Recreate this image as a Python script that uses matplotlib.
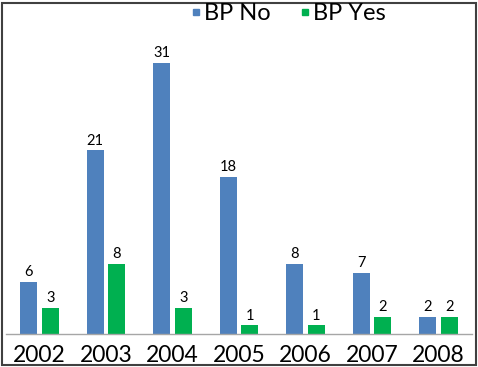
import matplotlib
matplotlib.use("Agg")
import matplotlib.pyplot as plt
import numpy as np
from matplotlib.patches import Rectangle
from matplotlib.lines import Line2D

years = ["2002", "2003", "2004", "2005", "2006", "2007", "2008"]
bp_no = [6, 21, 31, 18, 8, 7, 2]
bp_yes = [3, 8, 3, 1, 1, 2, 2]

plt.rcParams['font.family'] = ['Lato', 'DejaVu Sans']

fig = plt.figure(figsize=(4.78, 3.67), dpi=100)
ax = fig.add_axes([6.25 / 478, 1 - 334 / 367, (471.75 - 6.25) / 478, (334 - 28) / 367])

x = np.arange(len(years))
w = 0.256
off = 0.165
b1 = ax.bar(x - off, bp_no, w, color='#4F81BD', label='BP No')
b2 = ax.bar(x + off, bp_yes, w, color='#00B050', label='BP Yes')

for bars in (b1, b2):
    for r in bars:
        ax.text(r.get_x() + r.get_width() / 2, r.get_height() + 0.3, str(int(r.get_height())),
                ha='center', va='bottom', fontsize=10.5)

ax.set_xlim(-0.5, len(years) - 0.5)
ax.set_ylim(0, 35)
ax.set_xticks(x)
ax.set_xticklabels(years, fontsize=16.5)
ax.tick_params(axis='x', length=0, pad=8)
ax.set_yticks([])
for s in ['top', 'right', 'left']:
    ax.spines[s].set_visible(False)
ax.spines['bottom'].set_color('#A6A6A6')
ax.spines['bottom'].set_linewidth(1)

handles = [Line2D([], [], ls='none', marker='s', markersize=4, color='#4F81BD', label='BP No'),
           Line2D([], [], ls='none', marker='s', markersize=4, color='#00B050', label='BP Yes')]
leg = fig.legend(handles=handles, loc='center', bbox_to_anchor=(289 / 478, 1 - 14 / 367),
                 ncol=2, frameon=False, fontsize=17, handlelength=0.3,
                 handletextpad=0.2, columnspacing=1.3)

fig.patches.append(Rectangle((2 / 478, 2 / 367), 474 / 478, 362 / 367, transform=fig.transFigure,
                             fill=False, edgecolor='#404040', linewidth=1.5))

plt.savefig('out.png', dpi=100)
